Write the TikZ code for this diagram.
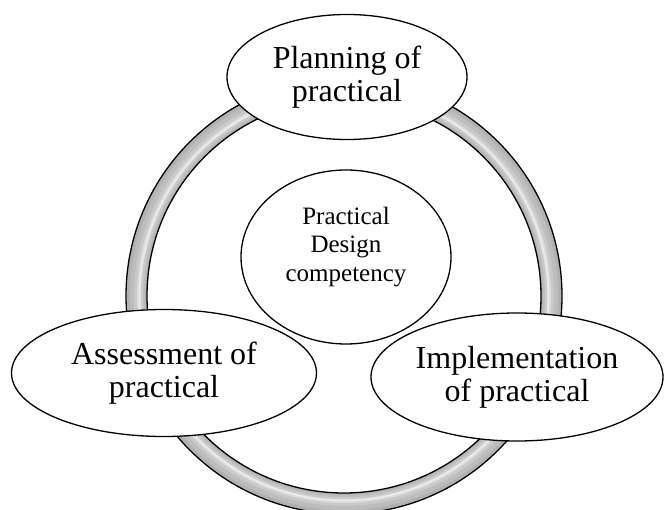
\documentclass[tikz,border=0pt]{standalone}
\usepackage{fontspec}
\setmainfont{Liberation Serif}
\usetikzlibrary{shapes.geometric}
\begin{document}
\begin{tikzpicture}[x=1pt,y=-1pt,
  bubble/.style={draw=black,fill=white,line width=1.3pt,ellipse,inner sep=0pt},
  bigtext/.style={font=\fontsize{32}{33}\selectfont,align=center},
  smalltext/.style={font=\fontsize{25}{28.5}\selectfont,align=center}]
\useasboundingbox (0,0) rectangle (664,510);
% ring
\coordinate (rc) at (344,296);
\draw[line width=21pt,color=black!30] (rc) circle[radius=207.5];
\draw[line width=15pt,color=black!26] (rc) circle[radius=206.5];
\draw[line width=9pt,color=black!21] (rc) circle[radius=205.5];
\draw[line width=4pt,color=black!14] (rc) circle[radius=205];
\draw[line width=1.5pt,color=black!8] (rc) circle[radius=204.5];
\draw[line width=1.3pt] (rc) circle[radius=218];
\draw[line width=1.3pt] (rc) circle[radius=197];
% centre
\node[bubble,minimum width=210pt,minimum height=174pt] (core) at (346,257) {};
\node[smalltext] (coretext) at (346,247) {Practical\\Design\\competency};
% outer bubbles
\node[bubble,bigtext,minimum width=240pt,minimum height=125pt] (plan) at (347,77) {Planning of\\practical};
\node[bubble,bigtext,minimum width=305pt,minimum height=127pt] (assess) at (164,373) {Assessment of\\practical};
\node[bubble,bigtext,minimum width=292pt,minimum height=128pt] (impl) at (517,377) {Implementation\\of practical};
\end{tikzpicture}
\end{document}
